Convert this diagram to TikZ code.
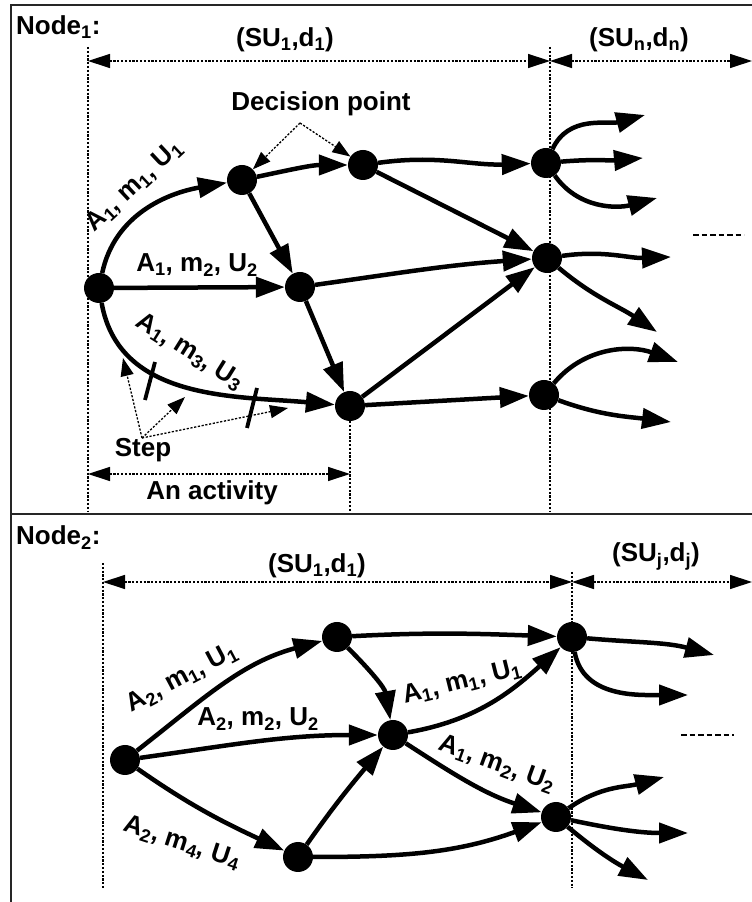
\documentclass[tikz,border=0pt]{standalone}
\usepackage{fontspec}
\setmainfont{Liberation Sans}
\usetikzlibrary{arrows.meta}
\newcommand\sbs[1]{\textsubscript{#1}}
\begin{document}
\begin{tikzpicture}[x=1pt,y=1pt,
  dot/.style={circle,fill=black,inner sep=0pt,minimum size=30pt},
  arr/.style={line width=4.5pt,-{Triangle[length=29pt,width=20pt]}},
  guide/.style={line width=1.3pt,dash pattern=on 2.2pt off 1.6pt},
  dim/.style={guide,{Triangle[length=22pt,width=14pt]}-{Triangle[length=22pt,width=14pt]}},
  ptr/.style={guide,-{Triangle[length=18pt,width=13pt]}},
  txt/.style={font=\fontsize{26}{30}\selectfont\bfseries,inner sep=0pt},
  frame/.style={line width=2pt,black!85},
  more/.style={line width=2.6pt,dash pattern=on 5.5pt off 3pt},
  tick/.style={line width=3.8pt}]
\useasboundingbox (0,0) rectangle (752,902);
% frame
\draw[frame] (752,897) -- (11,897) -- (11,0);
\draw[frame] (11,388) -- (752,388);
% ---------------- panel 1 ----------------
\draw[guide] (88,855) -- (88,390);
\draw[guide] (550,855) -- (550,390);
\draw[guide] (350,496) -- (350,390);
\node[txt,anchor=base west] (n1) at (16,867) {Node\sbs{1}:};
\node[txt,anchor=base] (su1) at (285,855) {(SU\sbs{1},d\sbs{1})};
\node[txt,anchor=base] (sun) at (639,855) {(SU\sbs{n},d\sbs{n})};
\coordinate (d1l) at (88,841);
\coordinate (d1m) at (550,841);
\coordinate (d1r) at (752,841);
\draw[dim] (d1l) -- (d1m);
\draw[dim] (d1m) -- (d1r);
\coordinate (acl) at (88,428);
\coordinate (acr) at (350,428);
\draw[dim] (acl) -- (acr);
\node[txt,anchor=base] (act) at (212,402) {An activity};
% nodes
\node[dot] (a0) at (99,614) {};
\node[dot] (a1) at (242,722) {};
\node[dot] (a2) at (363,737) {};
\node[dot] (a3) at (300,615) {};
\node[dot] (a4) at (350,496) {};
\node[dot] (b1) at (546,739) {};
\node[dot] (b2) at (547,644) {};
\node[dot] (b3) at (544,507) {};
\coordinate (t1) at (645,787);
\coordinate (t2) at (643,744);
\coordinate (t3) at (657,704);
\coordinate (t4) at (671,645);
\coordinate (t5) at (657,570);
\coordinate (t6) at (678,540);
\coordinate (t7) at (671,480);
% edges
\draw[arr] (a0) to[out=78,in=190] (a1);
\draw[arr] (a0) -- (a3);
\draw[arr] (a0) to[out=-80,in=175] (a4);
\draw[arr] (a1) to[out=12,in=180] (a2);
\draw[arr] (a1) -- (a3);
\draw[arr] (a2) to[out=8,in=182] (b1);
\draw[arr] (a2) -- (b2);
\draw[arr] (a3) to[out=8,in=184] (b2);
\draw[arr] (a3) -- (a4);
\draw[arr] (a4) -- (b2);
\draw[arr] (a4) -- (b3);
\draw[arr] (b1) to[out=65,in=195] (t1);
\draw[arr] (b1) to[out=5,in=185] (t2);
\draw[arr] (b1) to[out=-55,in=195] (t3);
\draw[arr] (b2) to[out=8,in=182] (t4);
\draw[arr] (b2) to[out=-40,in=146] (t5);
\draw[arr] (b3) to[out=50,in=160] (t6);
\draw[arr] (b3) to[out=-20,in=173] (t7);
% labels
\node[txt,rotate=43] (l1) at (134,716) {A\sbs{1}, m\sbs{1}, U\sbs{1}};
\node[txt] (l2) at (197,637) {A\sbs{1}, m\sbs{2}, U\sbs{2}};
\node[txt,rotate=-32] (l3) at (190,550) {A\sbs{1}, m\sbs{3}, U\sbs{3}};
% steps
\coordinate (k1a) at (155,540); \coordinate (k1b) at (145,502);
\coordinate (k2a) at (257,514); \coordinate (k2b) at (247,474);
\draw[tick] (k1a) -- (k1b);
\draw[tick] (k2a) -- (k2b);
\node[txt,anchor=base] (step) at (143,445) {Step};
\coordinate (so) at (142,464);
\coordinate (s1) at (123,544);
\coordinate (s2) at (185,505);
\coordinate (s3) at (288,494);
\draw[ptr] (so) -- (s1);
\draw[ptr] (so) -- (s2);
\draw[ptr] (so) -- (s3);
% decision point
\node[txt,anchor=base] (dp) at (321,791) {Decision point};
\coordinate (dpo) at (300,779);
\draw[ptr] (dpo) -- (a1);
\draw[ptr] (dpo) -- (a2);
\coordinate (m1a) at (693,667); \coordinate (m1b) at (744,667);
\draw[more] (m1a) -- (m1b);
% ---------------- panel 2 ----------------
\draw[guide] (103,339) -- (103,14);
\draw[guide] (572,330) -- (572,14);
\node[txt,anchor=base west] (n2) at (16,357) {Node\sbs{2}:};
\node[txt,anchor=base] (su2) at (317,329) {(SU\sbs{1},d\sbs{1})};
\node[txt,anchor=base] (suj) at (656,340) {(SU\sbs{j},d\sbs{j})};
\coordinate (d2l) at (103,320);
\coordinate (d2m) at (572,320);
\coordinate (d2r) at (752,320);
\draw[dim] (d2l) -- (d2m);
\draw[dim] (d2m) -- (d2r);
\node[dot] (c0) at (125,142) {};
\node[dot] (c1) at (337,265) {};
\node[dot] (c2) at (298,45) {};
\node[dot] (c3) at (393,167) {};
\node[dot] (c4) at (572,265) {};
\node[dot] (c5) at (556,85) {};
\coordinate (u1) at (714,247);
\coordinate (u2) at (688,207);
\coordinate (u3) at (664,125);
\coordinate (u4) at (688,69);
\coordinate (u5) at (648,22);
\draw[arr] (c0) to[out=38,in=195] (c1);
\draw[arr] (c0) to[out=8,in=180] (c3);
\draw[arr] (c0) to[out=-35,in=155] (c2);
\draw[arr] (c1) to[out=3,in=178] (c4);
\draw[arr] (c1) to[out=-45,in=100] (c3);
\draw[arr] (c2) to[out=55,in=230] (c3);
\draw[arr] (c2) to[out=0,in=200] (c5);
\draw[arr] (c3) to[out=10,in=222] (c4);
\draw[arr] (c3) to[out=-33,in=162] (c5);
\draw[arr] (c4) to[out=-5,in=165] (u1);
\draw[arr] (c4) to[out=-80,in=180] (u2);
\draw[arr] (c5) to[out=35,in=195] (u3);
\draw[arr] (c5) to[out=-12,in=180] (u4);
\draw[arr] (c5) to[out=-40,in=152] (u5);
\node[txt,rotate=28] (l4) at (182,224) {A\sbs{2}, m\sbs{1}, U\sbs{1}};
\node[txt] (l5) at (258,183) {A\sbs{2}, m\sbs{2}, U\sbs{2}};
\node[txt,rotate=-18] (l6) at (182,59) {A\sbs{2}, m\sbs{4}, U\sbs{4}};
\node[txt,rotate=14] (l7) at (462,220) {A\sbs{1}, m\sbs{1}, U\sbs{1}};
\node[txt,rotate=-20] (l8) at (497,138) {A\sbs{1}, m\sbs{2}, U\sbs{2}};
\coordinate (m2a) at (681,167); \coordinate (m2b) at (734,167);
\draw[more] (m2a) -- (m2b);
\end{tikzpicture}
\end{document}
